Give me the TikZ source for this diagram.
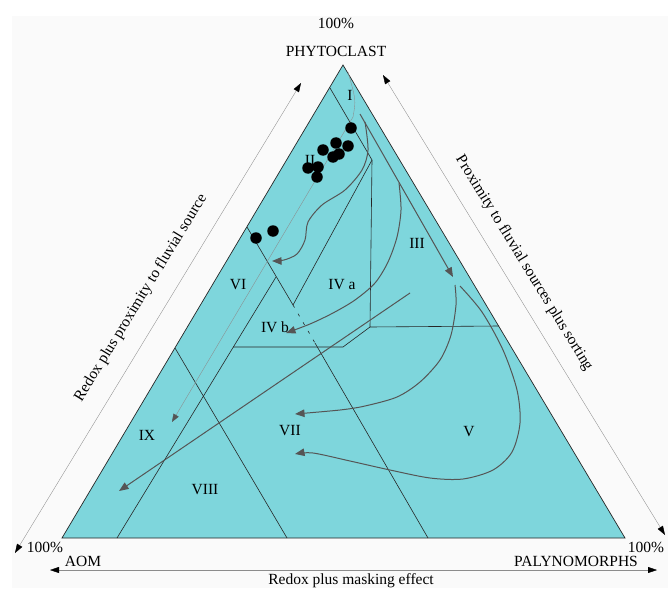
\documentclass[tikz,border=0pt]{standalone}
\usepackage{fontspec}
\setmainfont{Liberation Serif}
\usetikzlibrary{arrows.meta}
\definecolor{ternfill}{RGB}{126,214,220}
\definecolor{trendgray}{RGB}{85,85,85}
\begin{document}
\begin{tikzpicture}[x=1pt,y=-1pt,
    zone/.style={draw=black!85, line width=0.6pt},
    trend/.style={draw=trendgray, line width=1pt, -{Triangle[length=9.5pt,width=7.5pt]}},
    thintrend/.style={draw=black!45, line width=0.35pt, -{Triangle[length=8pt,width=6pt,color=trendgray]}},
    axis/.style={draw=black!45, line width=0.35pt,
      {Triangle[length=9pt,width=6pt,color=black]}-{Triangle[length=9pt,width=6pt,color=black]}},
    lbl/.style={font=\fontsize{15.5}{17}\selectfont, inner sep=0pt},
    sample/.style={circle, fill=black, inner sep=0pt, minimum size=11.5pt}]

      \useasboundingbox (0,0) rectangle (668,588);
      \fill[black!2] (12,16) rectangle (668,588);

      % Corners of the ternary plot
      \coordinate (phy) at (343,65);
      \coordinate (aom) at (62,538);
      \coordinate (pal) at (625,538);
      \filldraw[fill=ternfill, draw=black!85, line width=0.7pt] (aom) -- (pal) -- (phy) -- cycle;

      % Corner labels
      \node[lbl] (top100) at (336,23) {100\%};
      \node[lbl] (phyto) at (336,51) {PHYTOCLAST};
      \node[lbl] (left100) at (45,547) {100\%};
      \node[lbl] (aomlbl) at (83,561) {AOM};
      \node[lbl] (right100) at (646,547) {100\%};
      \node[lbl] (pallbl) at (576,561) {PALYNOMORPHS};

      % Axes outside the triangle
      \coordinate (la1) at (15,553);
      \coordinate (la2) at (301,83);
      \coordinate (ra1) at (383,75);
      \coordinate (ra2) at (665,535);
      \coordinate (ba1) at (50,570);
      \coordinate (ba2) at (657,570);
      \draw[axis] (la1) -- (la2);
      \draw[axis] (ra1) -- (ra2);
      \draw[axis] (ba1) -- (ba2);
      \node[lbl, rotate=58.5] (proxlbl) at (141,298) {Redox plus proximity to fluvial source};
      \node[lbl, rotate=-58.5] (sortlbl) at (524,263) {Proximity to fluvial sources plus sorting};
      \node[lbl] (masklbl) at (351,581) {Redox plus masking effect};

      % Field boundaries
      \draw[zone] (330,88) -- (372,160) -- (370,327) -- (499,326);
      \draw[zone] (372,160) -- (293,305);
      \draw[zone] (247,227) -- (293,305);
      \draw[zone, dash pattern=on 3pt off 7pt] (293,305) -- (315,343);
      \draw[zone] (315,343) -- (428,538);
      \draw[zone] (276,277) -- (117,538);
      \draw[zone] (233,347) -- (343,347) -- (370,327);
      \draw[zone] (175,348) -- (287,538);

      % Field names
      \node[lbl] (fI) at (350,95) {I};
      \node[lbl] (fII) at (310,160) {II};
      \node[lbl] (fIII) at (417,243) {III};
      \node[lbl] (fIVa) at (342,285) {IV a};
      \node[lbl] (fIVb) at (275,327) {IV b};
      \node[lbl] (fV) at (469,432) {V};
      \node[lbl] (fVI) at (238,285) {VI};
      \node[lbl] (fVII) at (290,431) {VII};
      \node[lbl] (fVIII) at (205,490) {VIII};
      \node[lbl] (fIX) at (147,435) {IX};

      % Trends between the fields
      \draw[thintrend] (348,72) .. controls (356,100) .. (353,117) -- (172,422);
      \draw[trend] (360,114) -- (453,277);
      \draw[trend] plot[smooth] coordinates {(365,122) (368,150) (362,170) (345,190)
        (322,205) (308,222) (305,240) (297,254) (284,260) (272,261)};
      \draw[trend] plot[smooth] coordinates {(399,183) (401,210) (397,237) (388,262)
        (375,283) (355,300) (333,313) (310,324) (286,333)};
      \draw[trend] (410,293) -- (119,491);
      \draw[trend] plot[smooth] coordinates {(455,285) (456,305) (451,335) (440,360)
        (420,382) (397,397) (365,406) (340,410) (295,414)};
      \draw[trend] plot[smooth] coordinates {(460,286) (482,312) (503,350) (517,390)
        (520,423) (512,452) (493,470) (463,479) (430,478) (390,470) (350,461) (313,453) (295,454)};

      % Samples
      \foreach \x/\y [count=\i] in {351/128, 336/143, 348/146, 323/150, 339/154, 333/157,
          308/168, 318/167, 317/177, 256/238, 273/231}
        \node[sample] (s\i) at (\x,\y) {};
\end{tikzpicture}
\end{document}
